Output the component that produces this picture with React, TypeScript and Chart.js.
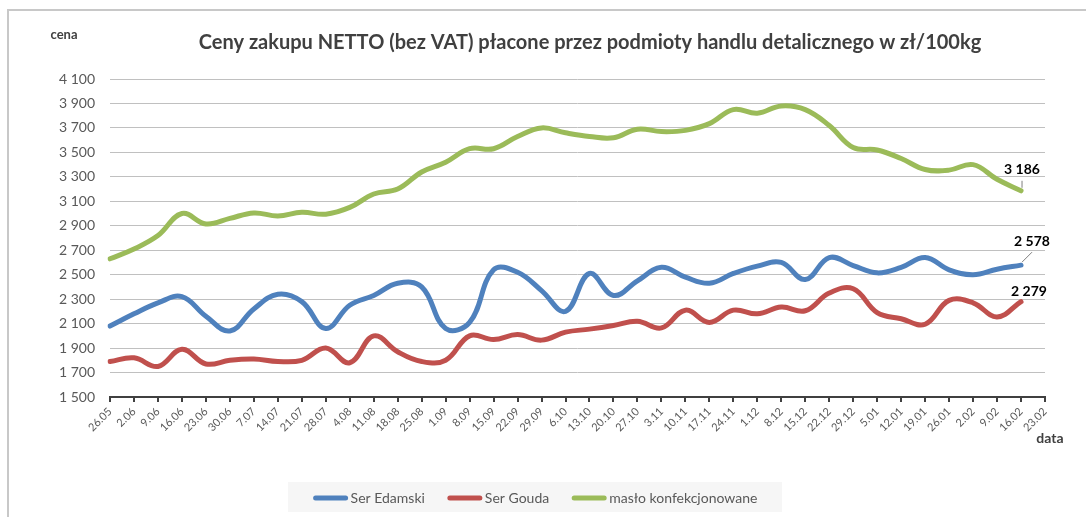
import { useEffect, useRef } from "react";
import { Chart, registerables } from "chart.js";

Chart.register(...registerables);

const labels = [
  "26.05", "2.06", "9.06", "16.06", "23.06", "30.06", "7.07", "14.07", "21.07", "28.07",
  "4.08", "11.08", "18.08", "25.08", "1.09", "8.09", "15.09", "22.09", "29.09", "6.10",
  "13.10", "20.10", "27.10", "3.11", "10.11", "17.11", "24.11", "1.12", "8.12", "15.12",
  "22.12", "29.12", "5.01", "12.01", "19.01", "26.01", "2.02", "9.02", "16.02", "23.02",
];

const serEdamski = [
  2080, 2180, 2270, 2320, 2160, 2040, 2220, 2340, 2280, 2060,
  2250, 2330, 2430, 2400, 2060, 2110, 2540, 2520, 2370, 2200,
  2510, 2330, 2450, 2560, 2480, 2430, 2510, 2570, 2600, 2460,
  2640, 2575, 2515, 2560, 2640, 2540, 2500, 2545, 2578,
];

const serGouda = [
  1790, 1820, 1750, 1890, 1770, 1800, 1810, 1790, 1800, 1900,
  1780, 2000, 1870, 1790, 1800, 2000, 1970, 2010, 1965, 2030,
  2055, 2085, 2120, 2065, 2210, 2110, 2210, 2180, 2235, 2205,
  2350, 2385, 2190, 2140, 2095, 2290, 2270, 2155, 2279,
];

const masloKonf = [
  2630, 2710, 2820, 3000, 2915, 2960, 3005, 2980, 3010, 2995,
  3050, 3160, 3200, 3340, 3420, 3530, 3530, 3630, 3700, 3660,
  3630, 3620, 3690, 3670, 3680, 3735, 3850, 3820, 3880, 3850,
  3720, 3540, 3520, 3450, 3360, 3355, 3400, 3280, 3186,
];

const seriesNames = ["Ser Edamski", "Ser Gouda", "masło konfekcjonowane"];
const seriesColors = ["#4F81BD", "#C0504D", "#9BBB59"];
const yMin = 1500;
const yMax = 4100;
const yStep = 200;
const titleText = "Ceny zakupu NETTO (bez VAT) płacone przez podmioty handlu detalicznego w zł/100kg";
const yAxisName = "cena";
const xAxisName = "data";

const FONT = "Lato, 'Open Sans', 'DejaVu Sans', sans-serif";

const fmt = (v: number) => String(Math.round(v)).replace(/\B(?=(\d{3})+(?!\d))/g, " ");

// last-point label placement (relative offsets) per dataset: [dx, dy, leader]
const lastLabelPlacement: [number, number, boolean][] = [
  [11, -24, true],
  [8, -10, false],
  [1, -21, true],
];

const decorPlugin = {
  id: "decor",
  beforeDraw(chart: any) {
    const ctx = chart.ctx as CanvasRenderingContext2D;
    ctx.save();
    ctx.fillStyle = "#ffffff";
    ctx.fillRect(0, 0, chart.width, chart.height);
    ctx.strokeStyle = "#c8c8c8";
    ctx.lineWidth = 2;
    ctx.strokeRect(8, 10, 1300, 1000);
    ctx.restore();
  },
  afterDraw(chart: any) {
    const ctx = chart.ctx as CanvasRenderingContext2D;
    ctx.save();
    // title
    ctx.fillStyle = "#404040";
    ctx.textAlign = "center";
    ctx.textBaseline = "middle";
    ctx.font = `bold 20px ${FONT}`;
    ctx.fillText(titleText, 590, 43);
    // axis names
    ctx.fillStyle = "#404040";
    ctx.font = `bold 13px ${FONT}`;
    ctx.fillText(yAxisName, 64, 35);
    ctx.font = `bold 14px ${FONT}`;
    ctx.fillText(xAxisName, 1050, 438);

    // last value labels
    chart.data.datasets.forEach((ds: any, i: number) => {
      const meta = chart.getDatasetMeta(i);
      const pt = meta.data[meta.data.length - 1];
      const v = ds.data[ds.data.length - 1];
      const [dx, dy, leader] = lastLabelPlacement[i];
      const lx = pt.x + dx;
      const ly = pt.y + dy;
      if (leader) {
        ctx.strokeStyle = "#7f7f7f";
        ctx.lineWidth = 1;
        ctx.beginPath();
        ctx.moveTo(pt.x + 1, pt.y - 3);
        ctx.lineTo(lx, ly + 11);
        ctx.stroke();
      }
      ctx.fillStyle = "#000000";
      ctx.font = `bold 14px ${FONT}`;
      ctx.textAlign = "center";
      ctx.textBaseline = "middle";
      ctx.fillText(fmt(v), lx, ly);
    });

    // legend
    const boxX = 288, boxY = 482, boxW = 494, boxH = 30;
    ctx.fillStyle = "#f6f6f6";
    ctx.fillRect(boxX, boxY, boxW, boxH);
    ctx.font = `14px ${FONT}`;
    const sample = 36, gapText = 2, gapItem = 22;
    const widths = chart.data.datasets.map((ds: any) => sample + gapText + ctx.measureText(ds.label).width);
    const total = widths.reduce((a: number, b: number) => a + b, 0) + gapItem * (widths.length - 1);
    let x = boxX + boxW / 2 - total / 2;
    const cy = boxY + 16;
    chart.data.datasets.forEach((ds: any, i: number) => {
      ctx.strokeStyle = ds.borderColor;
      ctx.lineWidth = 5;
      ctx.lineCap = "round";
      ctx.beginPath();
      ctx.moveTo(x + 3, cy);
      ctx.lineTo(x + sample - 3, cy);
      ctx.stroke();
      ctx.fillStyle = "#595959";
      ctx.textAlign = "left";
      ctx.textBaseline = "middle";
      ctx.fillText(ds.label, x + sample + gapText, cy);
      x += widths[i] + gapItem;
    });
    ctx.restore();
  },
};

export default function App() {
  const canvasRef = useRef<HTMLCanvasElement | null>(null);

  useEffect(() => {
    if (!canvasRef.current) return;
    const seriesData = [serEdamski, serGouda, masloKonf];
    const chart = new Chart(canvasRef.current, {
      type: "line",
      data: {
        labels,
        datasets: seriesData.map((d, i) => ({
          label: seriesNames[i],
          data: d,
          borderColor: seriesColors[i],
          backgroundColor: seriesColors[i],
          borderWidth: 5,
          pointRadius: 0,
          pointHoverRadius: 0,
          tension: 0.4,
          fill: false,
          borderCapStyle: "round" as const,
          borderJoinStyle: "round" as const,
        })),
      },
      options: {
        responsive: false,
        animation: false,
        devicePixelRatio: 1,
        layout: { padding: { top: 79, right: 41, left: 0, bottom: 0 } },
        plugins: {
          legend: { display: false },
          title: { display: false },
          tooltip: { enabled: false },
        },
        scales: {
          x: {
            offset: false,
            grid: {
              display: true,
              drawOnChartArea: false,
              drawTicks: true,
              tickLength: 5,
              color: "#404040",
              lineWidth: 2,
            },
            border: { display: true, color: "#404040", width: 2 },
            ticks: {
              autoSkip: false,
              maxRotation: 45,
              minRotation: 45,
              color: "#595959",
              padding: 3,
              font: { size: 11, family: FONT },
            },
            afterFit: (s: any) => {
              s.height = 120;
            },
          },
          y: {
            min: yMin,
            max: yMax,
            ticks: {
              stepSize: yStep,
              color: "#595959",
              padding: 15,
              font: { size: 14, family: FONT },
              callback: (v: any) => fmt(Number(v)),
            },
            grid: { color: "#c0c0c0", lineWidth: 1, drawTicks: false },
            border: { display: false },
            afterFit: (s: any) => {
              s.width = 110;
            },
          },
        },
      },
      plugins: [decorPlugin],
    });
    return () => chart.destroy();
  }, []);

  return (
    <canvas
      ref={canvasRef}
      width={1086}
      height={517}
      style={{ position: "fixed", left: 0, top: 0, width: 1086, height: 517 }}
    />
  );
}
